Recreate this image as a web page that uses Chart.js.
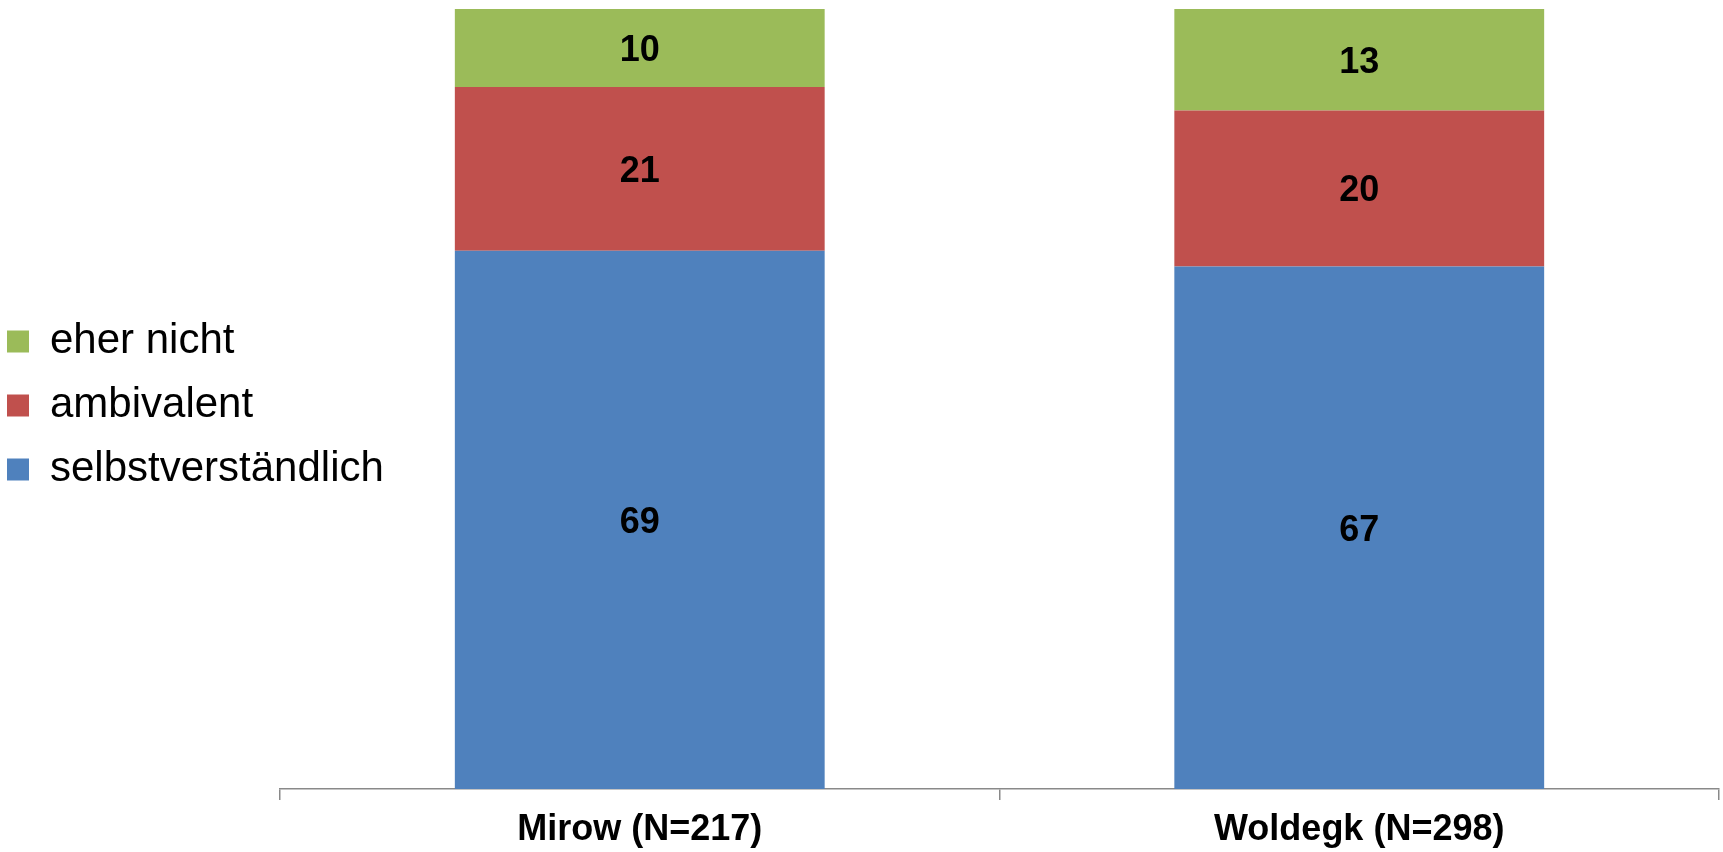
<!DOCTYPE html>
<html>
<head>
<meta charset="utf-8">
<script src="https://cdn.jsdelivr.net/npm/chart.js@4/dist/chart.umd.min.js"></script>
<style>
  html, body { margin: 0; padding: 0; background: #ffffff; }
  #wrap { width: 1723px; height: 852px; }
</style>
</head>
<body>
<div id="wrap"><canvas id="c" width="1723" height="852"></canvas></div>
<script>
// Survey results per town (percent)
const categories = ['Mirow (N=217)', 'Woldegk (N=298)'];
const selbstverstaendlich = [69, 67];
const ambivalent = [21, 20];
const eherNicht = [10, 13];

const seriesNames = ['selbstverständlich', 'ambivalent', 'eher nicht'];
const seriesColors = ['#4F81BD', '#C0504D', '#9BBB59'];

// Writes each segment's value in the middle of its bar segment
const segmentLabels = {
  id: 'segmentLabels',
  afterDatasetsDraw(chart) {
    const ctx = chart.ctx;
    ctx.save();
    ctx.font = 'bold 36px "Liberation Sans", Arial, sans-serif';
    ctx.fillStyle = '#000000';
    ctx.textAlign = 'center';
    ctx.textBaseline = 'middle';
    chart.data.datasets.forEach((ds, di) => {
      const meta = chart.getDatasetMeta(di);
      meta.data.forEach((bar, i) => {
        const p = bar.getProps(['x', 'y', 'base'], true);
        ctx.fillText(String(ds.data[i]), p.x, (p.y + p.base) / 2 + 3);
      });
    });
    ctx.restore();
  }
};

// The legend keeps a narrow slot left of the axis; let its labels run wider
const legendOverhang = {
  id: 'legendOverhang',
  afterLayout(chart) {
    if (chart.legend) {
      chart.legend.right = chart.legend.left + 440;
    }
  }
};

new Chart(document.getElementById('c'), {
  type: 'bar',
  data: {
    labels: categories,
    datasets: [
      { label: seriesNames[0], data: selbstverstaendlich, backgroundColor: seriesColors[0] },
      { label: seriesNames[1], data: ambivalent, backgroundColor: seriesColors[1] },
      { label: seriesNames[2], data: eherNicht, backgroundColor: seriesColors[2] }
    ]
  },
  options: {
    responsive: false,
    animation: false,
    events: [],
    categoryPercentage: 1,
    barPercentage: 0.514,
    layout: { padding: { left: -15, right: 4, top: 9, bottom: -8 } },
    plugins: {
      tooltip: { enabled: false },
      legend: {
        position: 'left',
        fullSize: false,
        reverse: true,
        maxWidth: 295,
        title: { display: true, text: ' ', font: { size: 10, lineHeight: 1.3 }, padding: 0 },
        labels: {
          boxWidth: 22,
          boxHeight: 22,
          padding: 22,
          color: '#000000',
          font: { family: '"Liberation Sans", Arial, sans-serif', size: 42 }
        }
      }
    },
    scales: {
      x: {
        stacked: true,
        offset: true,
        grid: {
          offset: true,
          drawOnChartArea: false,
          drawTicks: true,
          tickLength: 11,
          color: '#898989',
          lineWidth: 1.5
        },
        border: { display: true, color: '#898989', width: 1.5 },
        ticks: {
          color: '#000000',
          padding: 8.4,
          font: { family: '"Liberation Sans", Arial, sans-serif', size: 36, weight: 'bold', lineHeight: 1.2 }
        }
      },
      y: {
        stacked: true,
        display: false,
        min: 0,
        max: 100
      }
    }
  },
  plugins: [segmentLabels, legendOverhang]
});
</script>
</body>
</html>
